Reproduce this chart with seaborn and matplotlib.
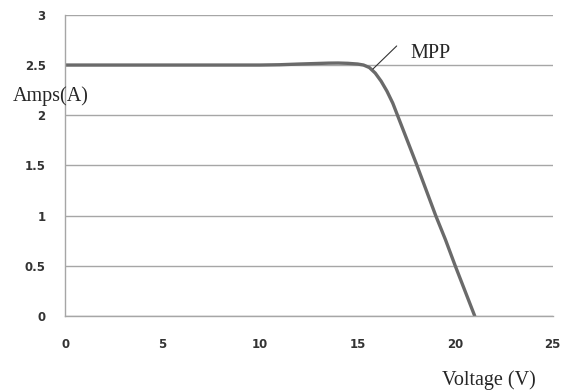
import matplotlib
matplotlib.use("Agg")
import matplotlib.pyplot as plt
import seaborn as sns
import pandas as pd

voltage = [0, 5, 10, 11, 12, 13, 13.5, 14, 14.5, 15, 15.3, 15.6, 15.9, 16.2, 16.5, 16.8, 17, 17.5, 18, 18.5, 19, 19.5, 20, 20.5, 21]
current = [2.5, 2.5, 2.5, 2.503, 2.51, 2.516, 2.519, 2.52, 2.517, 2.51, 2.5, 2.475, 2.42, 2.34, 2.24, 2.12, 2.02, 1.77, 1.52, 1.26, 1.0, 0.76, 0.5, 0.25, 0.0]
x_ticks = [0, 5, 10, 15, 20, 25]
y_ticks = [0, 0.5, 1, 1.5, 2, 2.5, 3]
y_tick_labels = ["0", "0.5", "1", "1.5", "2", "2.5", "3"]

df = pd.DataFrame({"Voltage": voltage, "Current": current})

sns.set_style("white")
fig = plt.figure(figsize=(5.71, 3.91), dpi=100)
ax = fig.add_axes([0.114, 0.192, 0.854, 0.770])

sns.lineplot(data=df, x="Voltage", y="Current", ax=ax, color="#6a6a6a", linewidth=2.4, sort=True)

ax.set_xlim(0, 25)
ax.set_ylim(0, 3)
ax.set_xticks(x_ticks)
ax.set_yticks(y_ticks)
ax.set_yticklabels(y_tick_labels)
ax.yaxis.grid(True, color="#a6a6a6", linewidth=1.0)
ax.set_axisbelow(True)
for s in ["top", "right"]:
    ax.spines[s].set_visible(False)
for s in ["left", "bottom"]:
    ax.spines[s].set_color("#a6a6a6")
    ax.spines[s].set_linewidth(1.0)
ax.tick_params(axis="both", which="both", direction="out", length=4, width=1.0, color="#a6a6a6",
               labelsize=8.5, labelcolor="#333333")
ax.tick_params(axis="x", pad=12)
ax.tick_params(axis="y", pad=10)
for lab in ax.get_xticklabels() + ax.get_yticklabels():
    lab.set_fontweight("bold")
ax.set_xlabel("")
ax.set_ylabel("")

serif = ["Liberation Serif", "DejaVu Serif"]
fig.text(13 / 571, 1 - 101 / 391, "Amps(A)", family=serif, fontsize=14.5, va="baseline", ha="left")
fig.text(442 / 571, 1 - 385 / 391, "Voltage (V)", family=serif, fontsize=14.5, va="baseline", ha="left")

ax.annotate("", xy=(15.78, 2.46), xytext=(17.0, 2.69),
            arrowprops=dict(arrowstyle="-", color="#333333", linewidth=0.8, shrinkA=0, shrinkB=0))
ax.text(17.73, 2.57, "MPP", family=serif, fontsize=14.5, ha="left", va="baseline")

fig.savefig("out.png", dpi=100)
